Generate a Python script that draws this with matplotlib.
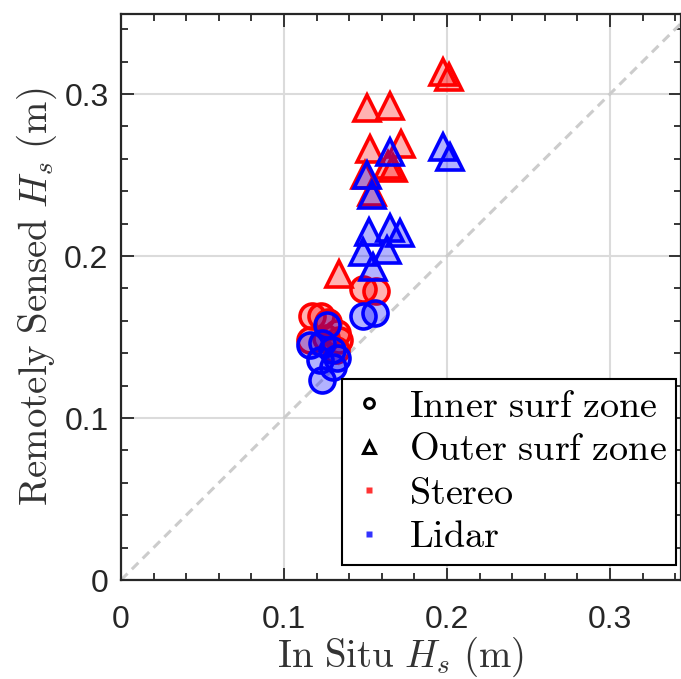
import numpy as np
import matplotlib.pyplot as plt
from matplotlib.lines import Line2D

plt.rcParams['mathtext.fontset'] = 'cm'
plt.rcParams['font.family'] = 'Liberation Sans'

# Inner surf zone (circles)
stereo_in_x = [0.117, 0.123, 0.127, 0.1325, 0.134, 0.116, 0.126, 0.1485, 0.1564, 0.132]
stereo_in_y = [0.163, 0.163, 0.159, 0.1524, 0.1479, 0.1479, 0.1494, 0.1796, 0.1784, 0.1418]
lidar_in_x = [0.1264, 0.116, 0.1233, 0.1294, 0.1325, 0.122, 0.130, 0.1233, 0.1485, 0.1558]
lidar_in_y = [0.1573, 0.1449, 0.1463, 0.1418, 0.1368, 0.1358, 0.1315, 0.1234, 0.163, 0.1648]

# Outer surf zone (triangles)
stereo_out_x = [0.1974, 0.2014, 0.1507, 0.1650, 0.1528, 0.1716, 0.1638, 0.1669, 0.1497, 0.1538, 0.1337]
stereo_out_y = [0.3137, 0.3107, 0.2916, 0.2927, 0.2660, 0.2693, 0.2561, 0.2543, 0.2500, 0.2396, 0.1888]
lidar_out_x = [0.1977, 0.2018, 0.1650, 0.1507, 0.1538, 0.1523, 0.1650, 0.1712, 0.1486, 0.1630, 0.1548]
lidar_out_y = [0.2674, 0.2609, 0.2644, 0.2500, 0.2376, 0.2150, 0.2171, 0.2142, 0.2026, 0.2037, 0.1934]

lims = [0, 0.35]

fig = plt.figure(figsize=(6.81, 6.79), dpi=100)
ax = fig.add_axes([121/681, 99/679, 560/681, 566/679])

ax.plot(lims, lims, ls=(0, (3, 2)), color='0.8', lw=2.2, zorder=1)

def pts(x, y, marker, col, ms):
    face = (1, 0, 0, 0.3) if col == 'r' else (0, 0, 1, 0.3)
    ax.plot(x, y, ls='none', marker=marker, ms=ms, mfc=face, mec=col,
            mew=2.6, zorder=3)

pts(stereo_in_x, stereo_in_y, 'o', 'r', 18)
pts(stereo_out_x, stereo_out_y, '^', 'r', 19)
pts(lidar_in_x, lidar_in_y, 'o', 'b', 18)
pts(lidar_out_x, lidar_out_y, '^', 'b', 19)

ax.set_xlim(0, 0.3436)
ax.set_ylim(0, 0.3494)
ax.set_xticks([0, 0.1, 0.2, 0.3])
ax.set_yticks([0, 0.1, 0.2, 0.3])
ax.set_xticklabels(['0', '0.1', '0.2', '0.3'])
ax.set_yticklabels(['0', '0.1', '0.2', '0.3'])
ax.set_xticks(np.arange(0, 0.345, 0.02), minor=True)
ax.set_yticks(np.arange(0, 0.345, 0.02), minor=True)
ax.tick_params(which='both', direction='in', top=True, right=True,
               width=1.3, color='0.15', labelsize=23, labelcolor='0.15')
ax.tick_params(which='major', length=9)
ax.tick_params(axis='x', which='major', pad=18)
ax.tick_params(axis='y', which='major', pad=9)
ax.tick_params(which='minor', length=5)
ax.grid(True, which='major', color='0.86', lw=1.5)
ax.set_axisbelow(True)
for s in ax.spines.values():
    s.set_linewidth(1.6)
    s.set_color('0.15')

ax.set_xlabel(r'$\mathrm{In\ Situ}\ H_s\ \mathrm{(m)}$', fontsize=28,
              color='0.2', labelpad=0)
ax.set_ylabel(r'$\mathrm{Remotely\ Sensed}\ H_s\ \mathrm{(m)}$', fontsize=28,
              color='0.2', labelpad=4)

handles = [
    Line2D([], [], ls='none', marker='o', ms=7, mfc='white', mec='k', mew=2.2),
    Line2D([], [], ls='none', marker='^', ms=8, mfc='white', mec='k', mew=2.2),
    Line2D([], [], ls='none', marker='s', ms=5, mfc=(1, 0.2, 0.2), mec='none'),
    Line2D([], [], ls='none', marker='s', ms=5, mfc=(0.2, 0.2, 1), mec='none'),
]
names = [r'$\mathrm{Inner\ surf\ zone}$', r'$\mathrm{Outer\ surf\ zone}$',
         r'$\mathrm{Stereo}$', r'$\mathrm{Lidar}$']
leg = ax.legend(handles, names, loc='lower right', bbox_to_anchor=(0.991, 0.0265),
                fontsize=27.5, frameon=True, fancybox=False, edgecolor='k',
                framealpha=1, borderaxespad=0, handlelength=0.9,
                handletextpad=0.6, labelspacing=0.2, borderpad=0.25)
leg.get_frame().set_linewidth(1.5)

fig.savefig('out.png', dpi=100)
